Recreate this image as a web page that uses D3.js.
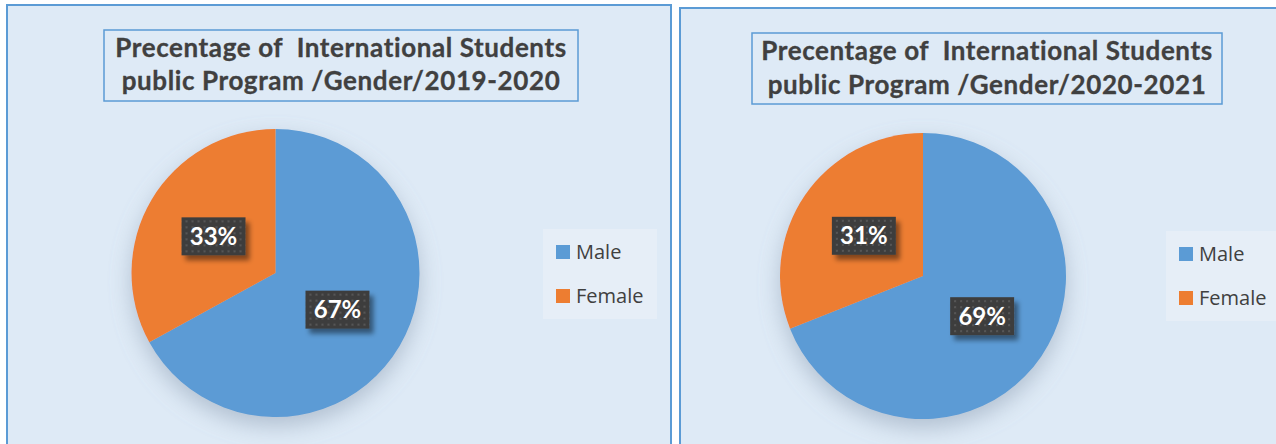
<!DOCTYPE html>
<html><head><meta charset="utf-8">
<script src="https://cdn.jsdelivr.net/npm/d3@7"></script>
<style>
html,body{margin:0;padding:0;background:#fff;}
svg{display:block;}
</style></head>
<body>
<svg id="chart" width="1276" height="444"></svg>
<script>
// ---- data ----
const categories = ["Male", "Female"];
const values2019 = [67, 33];
const values2020 = [69, 31];
const titles2019 = ["Precentage of  International Students", "public Program /Gender/2019-2020"];
const titles2020 = ["Precentage of  International Students", "public Program /Gender/2020-2021"];
const colors = ["#5B9BD5", "#ED7D31"];

const svg = d3.select("#chart");
const defs = svg.append("defs");

// dotted pattern for label boxes
const pat = defs.append("pattern").attr("id","dots").attr("patternUnits","userSpaceOnUse")
  .attr("width",6).attr("height",6);
pat.append("rect").attr("width",6).attr("height",6).attr("fill","#3e3e3e");
pat.append("rect").attr("x",2).attr("y",2).attr("width",2).attr("height",2).attr("fill","#575757");

// pie halo shadow
const f1 = defs.append("filter").attr("id","pieShadow").attr("x","-30%").attr("y","-30%").attr("width","160%").attr("height","160%");
f1.append("feGaussianBlur").attr("in","SourceAlpha").attr("stdDeviation",11).attr("result","b");
f1.append("feOffset").attr("in","b").attr("dy",9).attr("result","o");
f1.append("feFlood").attr("flood-color","#8596ab").attr("flood-opacity",0.5);
f1.append("feComposite").attr("in2","o").attr("operator","in").attr("result","s");
const m1 = f1.append("feMerge"); m1.append("feMergeNode").attr("in","s"); m1.append("feMergeNode").attr("in","SourceGraphic");

// label shadow
const f2 = defs.append("filter").attr("id","lblShadow").attr("x","-30%").attr("y","-30%").attr("width","160%").attr("height","160%");
f2.append("feGaussianBlur").attr("in","SourceAlpha").attr("stdDeviation",2.5).attr("result","b");
f2.append("feOffset").attr("in","b").attr("dx",4).attr("dy",5).attr("result","o");
f2.append("feFlood").attr("flood-color","#000").attr("flood-opacity",0.45);
f2.append("feComposite").attr("in2","o").attr("operator","in").attr("result","s");
const m2 = f2.append("feMerge"); m2.append("feMergeNode").attr("in","s"); m2.append("feMergeNode").attr("in","SourceGraphic");

const panels = [
  {x:7, y:5, w:664, h:460, values:values2019, titles:titles2019,
   tbox:{x:104,y:30,w:474,h:71}, tBase:[57,90], cx:275.5, cy:273, r:144,
   leg:{x:543,y:229,w:114,h:90}},
  {x:680, y:8, w:620, h:460, values:values2020, titles:titles2020,
   tbox:{x:752,y:33,w:470,h:71}, tBase:[60,94], cx:923, cy:276, r:143,
   leg:{x:1166,y:231,w:120,h:90}}
];

const pie = d3.pie().sort(null).value(d => d);

panels.forEach(p => {
  const g = svg.append("g");
  g.append("rect").attr("x",p.x).attr("y",p.y).attr("width",p.w).attr("height",p.h)
    .attr("fill","#DEEAF6").attr("stroke","#5B9BD5").attr("stroke-width",2);

  // title
  g.append("rect").attr("x",p.tbox.x).attr("y",p.tbox.y).attr("width",p.tbox.w).attr("height",p.tbox.h)
    .attr("fill","#DEEAF6").attr("stroke","#5B9BD5").attr("stroke-width",1.5);
  p.titles.forEach((t,i) => {
    g.append("text").attr("x",p.tbox.x + p.tbox.w/2).attr("y",p.tBase[i])
      .attr("text-anchor","middle").attr("font-family","Lato, 'Open Sans', sans-serif")
      .attr("font-weight","bold").attr("font-size",26).attr("letter-spacing",0.6)
      .attr("fill","#404040").attr("stroke","#404040").attr("stroke-width",0.3)
      .style("white-space","pre").text(t);
  });

  // pie
  const arcs = pie(p.values);
  const arc = d3.arc().innerRadius(0).outerRadius(p.r);
  const lblArc = d3.arc().innerRadius(p.r*0.5).outerRadius(p.r*0.5);
  const pg = g.append("g").attr("transform",`translate(${p.cx},${p.cy})`);
  pg.append("g").attr("filter","url(#pieShadow)").selectAll("path").data(arcs).join("path")
    .attr("d",arc).attr("fill",(d,i)=>colors[i]);

  arcs.forEach((d,i) => {
    const [lx,ly] = lblArc.centroid(d);
    const bw = 64, bh = 38;
    const lg = pg.append("g").attr("transform",`translate(${lx},${ly})`);
    lg.append("rect").attr("x",-bw/2).attr("y",-bh/2).attr("width",bw).attr("height",bh)
      .attr("fill","url(#dots)").attr("filter","url(#lblShadow)");
    lg.append("text").attr("text-anchor","middle").attr("y",8.5)
      .attr("font-family","Lato, 'Open Sans', sans-serif").attr("font-weight","bold")
      .attr("font-size",24).attr("fill","#ffffff").text(d.data + "%");
  });

  // legend
  g.append("rect").attr("x",p.leg.x).attr("y",p.leg.y).attr("width",p.leg.w).attr("height",p.leg.h)
    .attr("fill","#E6EEF7");
  categories.forEach((c,i) => {
    const yy = p.leg.y + 16 + i*44;
    g.append("rect").attr("x",p.leg.x+13).attr("y",yy).attr("width",14).attr("height",14).attr("fill",colors[i]);
    g.append("text").attr("x",p.leg.x+33).attr("y",yy+14)
      .attr("font-family","'Open Sans', sans-serif").attr("font-size",20).attr("fill","#404040").text(c);
  });
});
</script>
</body></html>
